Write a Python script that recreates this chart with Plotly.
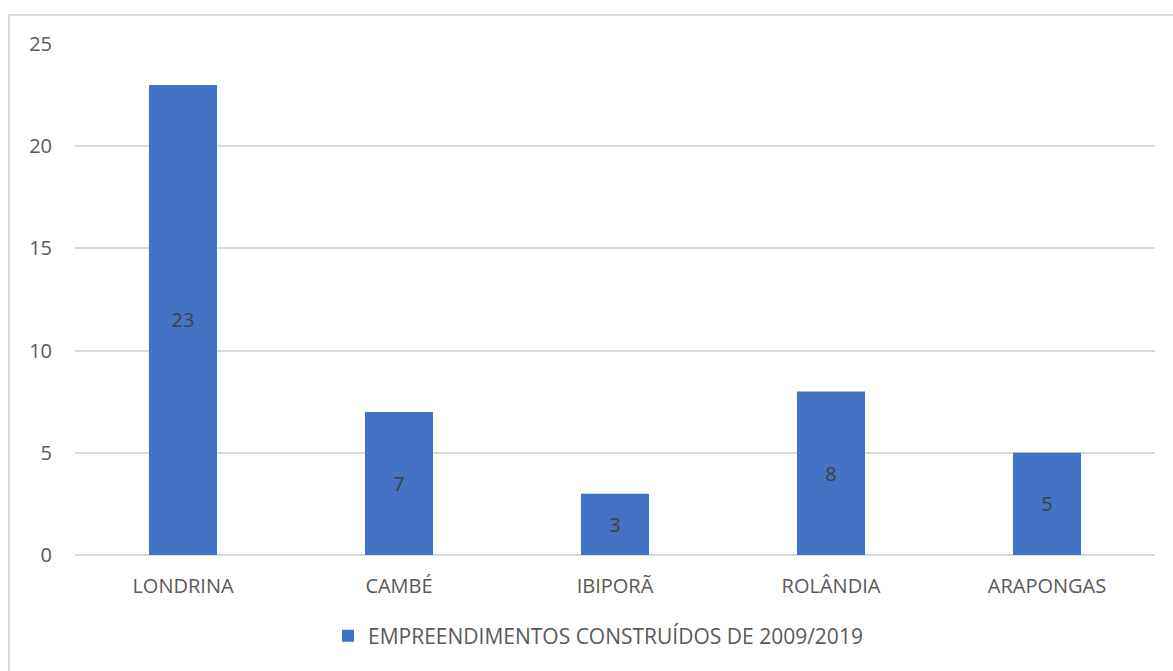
import plotly.graph_objects as go

categories = ["LONDRINA", "CAMBÉ", "IBIPORÃ", "ROLÂNDIA", "ARAPONGAS"]
values = [23, 7, 3, 8, 5]
series_name = "EMPREENDIMENTOS CONSTRUÍDOS DE 2009/2019"
y_ticks = [0, 5, 10, 15, 20, 25]

W, H = 1173, 671
L, R, T, B = 75, 18, 44, 116
pw, ph = W - L - R, H - T - B

fig = go.Figure()
fig.add_trace(go.Bar(
    x=categories, y=values, name=series_name,
    marker=dict(color="#4472C4", line=dict(width=0)),
    text=[str(v) for v in values], textposition="inside",
    insidetextanchor="middle",
    textfont=dict(color="#404040", size=20, family="Open Sans"),
    showlegend=True,
))

# chart border (top and left edges visible)
fig.add_shape(type="rect", xref="paper", yref="paper",
              x0=(9 - L) / pw, x1=(W + 20 - L) / pw,
              y0=(T + ph - (H + 20)) / ph, y1=(T + ph - 15) / ph,
              line=dict(color="#d9d9d9", width=2), fillcolor="rgba(0,0,0,0)",
              layer="below")

fig.update_layout(
    width=W, height=H,
    margin=dict(l=L, r=R, t=T, b=B, pad=0),
    paper_bgcolor="white", plot_bgcolor="white",
    font=dict(family="Open Sans", color="#595959", size=20),
    bargap=0.685,
    legend=dict(orientation="h", x=0.5 - 17 / pw, xanchor="center",
                y=(T + ph - 636) / ph, yanchor="middle",
                font=dict(size=21, color="#595959"),
                itemwidth=30),
    xaxis=dict(showgrid=False, showline=False, ticks="",
               tickfont=dict(size=20, color="#595959"),
               ticklabelstandoff=17),
    yaxis=dict(range=[0, 25], tickvals=y_ticks, showgrid=True,
               gridcolor="#d9d9d9", gridwidth=2,
               zeroline=True, zerolinecolor="#d9d9d9", zerolinewidth=2,
               showline=False, ticks="",
               tickfont=dict(size=20, color="#595959"),
               ticklabelstandoff=22),
)

fig.write_html("out.html")
